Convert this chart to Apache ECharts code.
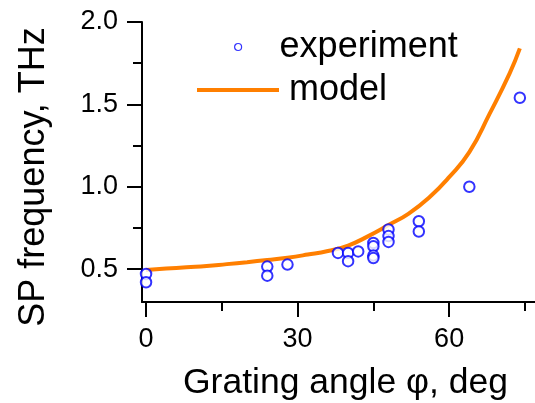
<!DOCTYPE html>
<html>
<head>
<meta charset="utf-8">
<script src="https://cdn.jsdelivr.net/npm/echarts@6/dist/echarts.min.js"></script>
<style>
  html, body { margin: 0; padding: 0; background: #fff; }
  #chart { width: 535px; height: 403px; }
</style>
</head>
<body>
<div id="chart"></div>
<script>
// Measured surface-plasmon frequency vs grating angle
const expAngle = [0, 0, 24, 24, 28, 38, 40, 40, 42, 45, 45, 45, 45, 48, 48, 48, 54, 54, 64, 74];
const expFreq  = [0.47, 0.42, 0.515, 0.46, 0.527, 0.598, 0.598, 0.548, 0.607, 0.658, 0.638, 0.582, 0.567, 0.74, 0.70, 0.665, 0.79, 0.728, 1.0, 1.54];

// Model curve
const modelAngle = [0, 4, 8, 12, 16, 20, 24, 28, 32, 36, 40, 44, 48, 52, 56, 60, 64, 68, 72, 74];
const modelFreq  = [0.495, 0.503, 0.511, 0.518, 0.53, 0.542, 0.555, 0.569, 0.588, 0.61, 0.643, 0.7, 0.767, 0.837, 0.933, 1.058, 1.21, 1.442, 1.69, 1.84];

// Tick positions
const xMajorTicks = [0, 30, 60];
const xMinorTicks = [15, 45, 75];
const yMajorTicks = [0.5, 1.0, 1.5, 2.0];
const yMinorTicks = [0.75, 1.25, 1.75];

const FONT = "'Liberation Sans', Arial, Helvetica, sans-serif";
const X_MIN = -0.8, X_MAX = 77, Y_MIN = 0.3, Y_MAX = 2.0;
const ORANGE = '#ff7f00', BLUE = '#0000ff';

const chart = echarts.init(document.getElementById('chart'), null, { renderer: 'canvas' });

const axisLine = { show: true, onZero: false, lineStyle: { color: '#000', width: 2 } };

chart.setOption({
  animation: false,
  backgroundColor: '#fff',
  textStyle: { fontFamily: FONT, color: '#000' },
  grid: { left: 142, right: 0, top: 22, bottom: 101, containLabel: false, outerBoundsMode: 'none' },
  legend: [
    {
      data: [{ name: 'experiment', icon: 'circle',
               itemStyle: { color: '#fff', borderColor: BLUE, borderWidth: 1.2 } }],
      left: 234, top: 29, padding: 0,
      itemWidth: 7, itemHeight: 7,
      textStyle: { fontFamily: FONT, fontSize: 36, color: '#000', padding: [0, 0, 0, 33] }
    },
    {
      data: [{ name: 'model', icon: 'rect', itemStyle: { color: ORANGE } }],
      left: 197, top: 72, padding: 0,
      itemWidth: 82, itemHeight: 4,
      textStyle: { fontFamily: FONT, fontSize: 36, color: '#000', padding: [0, 0, 0, 5] }
    }
  ],
  xAxis: [
    {
      type: 'value', min: X_MIN, max: X_MAX, position: 'bottom',
      name: 'Grating angle \u03c6, deg', nameLocation: 'middle', nameGap: 63,
      nameTextStyle: { fontFamily: FONT, fontSize: 35.5, color: '#000', padding: [0, 0, 0, 14] },
      axisLine: axisLine,
      axisTick: { show: true, inside: false, length: 15, customValues: xMajorTicks, lineStyle: { color: '#000', width: 2 } },
      axisLabel: { show: true, customValues: xMajorTicks, margin: 24, fontFamily: FONT, fontSize: 27, color: '#000' },
      splitLine: { show: false }
    },
    {
      type: 'value', min: X_MIN, max: X_MAX, position: 'bottom',
      axisLine: { show: false, onZero: false },
      axisTick: { show: true, inside: false, length: 9, customValues: xMinorTicks, lineStyle: { color: '#000', width: 2 } },
      axisLabel: { show: false },
      splitLine: { show: false }
    }
  ],
  yAxis: [
    {
      type: 'value', min: Y_MIN, max: Y_MAX, position: 'left',
      name: 'SP frequency, THz', nameLocation: 'middle', nameGap: 90, nameRotate: 90,
      nameTextStyle: { fontFamily: FONT, fontSize: 36, color: '#000', padding: [0, 30, 0, 0] },
      axisLine: axisLine,
      axisTick: { show: true, inside: false, length: 15, customValues: yMajorTicks, lineStyle: { color: '#000', width: 2 } },
      axisLabel: { show: true, customValues: yMajorTicks, margin: 24, fontFamily: FONT, fontSize: 27, color: '#000',
                   formatter: v => v.toFixed(1) },
      splitLine: { show: false }
    },
    {
      type: 'value', min: Y_MIN, max: Y_MAX, position: 'left',
      axisLine: { show: false, onZero: false },
      axisTick: { show: true, inside: false, length: 9, customValues: yMinorTicks, lineStyle: { color: '#000', width: 2 } },
      axisLabel: { show: false },
      splitLine: { show: false }
    }
  ],
  series: [
    {
      name: 'model', type: 'line', xAxisIndex: 0, yAxisIndex: 0,
      data: modelAngle.map((a, i) => [a, modelFreq[i]]),
      smooth: 0.5, showSymbol: false, symbol: 'none',
      lineStyle: { color: ORANGE, width: 4 },
      itemStyle: { color: ORANGE },
      z: 2
    },
    {
      name: 'experiment', type: 'scatter', xAxisIndex: 0, yAxisIndex: 0,
      data: expAngle.map((a, i) => [a, expFreq[i]]),
      symbol: 'emptyCircle', symbolSize: 10.5,
      itemStyle: { color: BLUE, borderColor: BLUE, borderWidth: 1.4 },
      z: 3
    }
  ]
});
</script>
</body>
</html>
